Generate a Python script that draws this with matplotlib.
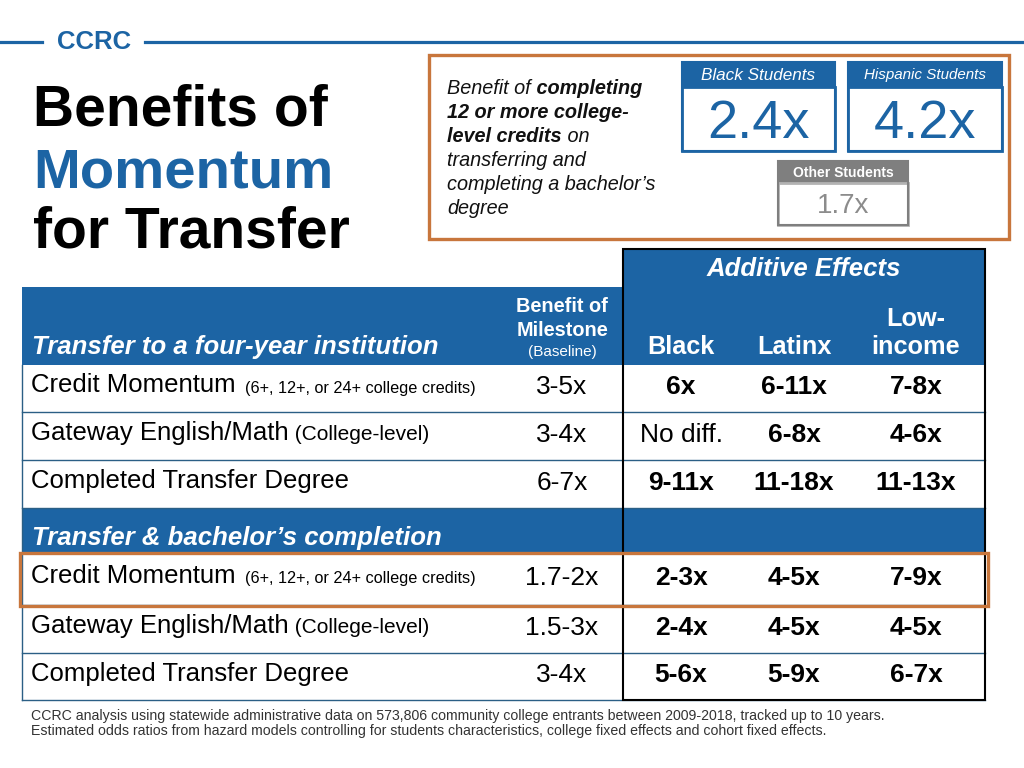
import matplotlib
matplotlib.use('Agg')
import matplotlib.pyplot as plt
from matplotlib.patches import Rectangle

plt.rcParams['font.family'] = ['Liberation Sans', 'DejaVu Sans']

# ---- data ----
sections = ['Transfer to a four-year institution', 'Transfer & bachelor\u2019s completion']
milestones = ['Credit Momentum', 'Gateway English/Math', 'Completed Transfer Degree']
milestone_notes = ['(6+, 12+, or 24+ college credits)', '(College-level)', '']
baseline = [['3-5x', '3-4x', '6-7x'], ['1.7-2x', '1.5-3x', '3-4x']]
black = [['6x', 'No diff.', '9-11x'], ['2-3x', '2-4x', '5-6x']]
latinx = [['6-11x', '6-8x', '11-18x'], ['4-5x', '4-5x', '5-9x']]
low_income = [['7-8x', '4-6x', '11-13x'], ['7-9x', '4-5x', '6-7x']]
group_names = ['Black', 'Latinx', 'Low-\nincome']

callout_groups = ['Black Students', 'Hispanic Students', 'Other Students']
callout_values = ['2.4x', '4.2x', '1.7x']

footnote = ['CCRC analysis using statewide administrative data on 573,806 community college entrants between 2009-2018, tracked up to 10 years.',
            'Estimated odds ratios from hazard models controlling for students characteristics, college fixed effects and cohort fixed effects.']

BLUE = '#1c64a4'
ORANGE = '#c8763c'
RULE = '#2b5f85'

fig = plt.figure(figsize=(10.24, 7.68), dpi=100)
ax = fig.add_axes([0, 0, 1, 1])
ax.set_xlim(0, 1024)
ax.set_ylim(768, 0)
ax.axis('off')
r = fig.canvas.get_renderer()


def rich(x, y, parts, **common):
    # draw text pieces one after another on one baseline
    for s, kw in parts:
        t = ax.text(x, y, s, va='baseline', ha='left', **common, **kw)
        x += t.get_window_extent(renderer=r).width


# ---- header ----
ax.plot([0, 42], [42, 42], color=BLUE, lw=2.3)
ax.plot([145, 1024], [42, 42], color=BLUE, lw=2.3)
ax.text(57, 42, 'CCRC', color=BLUE, fontsize=18.5, fontweight='bold', va='center')

ax.text(33, 126, 'Benefits of', fontsize=41, fontweight='bold', color='black')
ax.text(33, 187, 'Momentum', fontsize=40.5, fontweight='bold', color=BLUE)
ax.text(33, 248, 'for Transfer', fontsize=41, fontweight='bold', color='black')

# ---- callout ----
ax.add_patch(Rectangle((429, 55), 580, 184, fill=False, ec=ORANGE, lw=2.4, zorder=5))
it = dict(style='italic')
bit = dict(style='italic', fontweight='bold')
para = [[('Benefit of', it), (' completing', bit)],
        [('12 or more college-', bit)],
        [('level credits', bit), (' on', it)],
        [('transferring and', it)],
        [('completing a bachelor\u2019s', it)],
        [('degree', it)]]
for i, line in enumerate(para):
    rich(447, 94 + 24 * i, line, fontsize=14.3, color='#111111')

boxes = [(682, 62, 153, 25, 64, BLUE, BLUE, 39, 12.3),
         (848, 62, 154, 25, 64, BLUE, BLUE, 39, 10.9),
         (778, 161, 130, 22, 42, '#7f7f7f', '#b3b3b3', 20, 10)]
for (x0, y0, w, hh, bh, hc, bc, vs, hs), g, v in zip(boxes, callout_groups, callout_values):
    ax.add_patch(Rectangle((x0, y0), w, hh, color=hc, lw=0))
    ax.add_patch(Rectangle((x0, y0 + hh), w, bh, fill=False, ec=bc, lw=2))
    ax.add_patch(Rectangle((x0, y0), w, hh + bh, fill=False, ec=hc, lw=1.5))
    if g == 'Other Students':
        ax.text(x0 + w / 2, y0 + hh / 2 + 1, g, color='white', fontsize=hs, fontweight='bold',
                ha='center', va='center')
        ax.text(x0 + w / 2, y0 + hh + bh / 2 + 2, v, color='#8c8c8c', fontsize=vs,
                ha='center', va='center')
    else:
        ax.text(x0 + w / 2, y0 + hh / 2 + 1, g, color='white', fontsize=hs, style='italic',
                ha='center', va='center')
        ax.text(x0 + w / 2, y0 + hh + bh / 2 + 5, v, color=BLUE, fontsize=vs,
                ha='center', va='center')

# ---- table ----
L, M, R = 22, 623, 985
col_x = [562, 681, 794, 916]
ax.add_patch(Rectangle((L, 287), M - L, 78, color=BLUE, lw=0))
ax.add_patch(Rectangle((M, 249), R - M, 116, color=BLUE, lw=0))
ax.add_patch(Rectangle((L, 508), R - L, 45, color=BLUE, lw=0))

ax.text(804, 269, 'Additive Effects', color='white', fontsize=18.5, fontweight='bold',
        style='italic', ha='center', va='center')
ax.text(col_x[0], 306, 'Benefit of', color='white', fontsize=14.3, fontweight='bold', ha='center', va='center')
ax.text(col_x[0], 330, 'Milestone', color='white', fontsize=14.3, fontweight='bold', ha='center', va='center')
ax.text(col_x[0], 352, '(Baseline)', color='white', fontsize=11, ha='center', va='center')
for cx, g in zip(col_x[1:], group_names):
    ax.text(cx, 354, g, color='white', fontsize=18.2, fontweight='bold', ha='center', va='baseline',
            linespacing=1.2)

section_base = [354, 545]
row_tops = [[365, 412, 460], [553, 605, 653]]
row_ends = [508, 700]
for s, sec in enumerate(sections):
    ax.text(32, section_base[s], sec, color='white', fontsize=18.5, fontweight='bold',
            style='italic', va='baseline')
    tops = row_tops[s] + [row_ends[s]]
    for i in range(3):
        y0, y1 = tops[i], tops[i + 1]
        yb = (y0 + y1) / 2 + 4
        parts = [(milestones[i], dict(fontsize=18.5))]
        if milestone_notes[i]:
            size = 11.7 if i == 0 else 15
            parts.append(('  ' + milestone_notes[i] if i == 0 else ' ' + milestone_notes[i],
                          dict(fontsize=size)))
        rich(31, yb, parts, color='black')
        ax.text(col_x[0], yb + 2, baseline[s][i], fontsize=19, ha='center', va='baseline')
        for cx, vals in zip(col_x[1:], [black, latinx, low_income]):
            v = vals[s][i]
            ax.text(cx, yb + 2, v, fontsize=19, ha='center', va='baseline',
                    fontweight='normal' if v == 'No diff.' else 'bold')
        ax.plot([L, R], [y1, y1], color=RULE, lw=1)

ax.plot([L, L], [365, 700], color=RULE, lw=1)
ax.add_patch(Rectangle((M, 249), R - M, 451, fill=False, ec='black', lw=1.5, zorder=4))
ax.add_patch(Rectangle((20, 553), 968, 53, fill=False, ec=ORANGE, lw=2.4, zorder=6))

for i, line in enumerate(footnote):
    ax.text(31, 716 + 15 * i, line, fontsize=10.2, color='#333333', va='center')

fig.savefig('out.png', dpi=100)
